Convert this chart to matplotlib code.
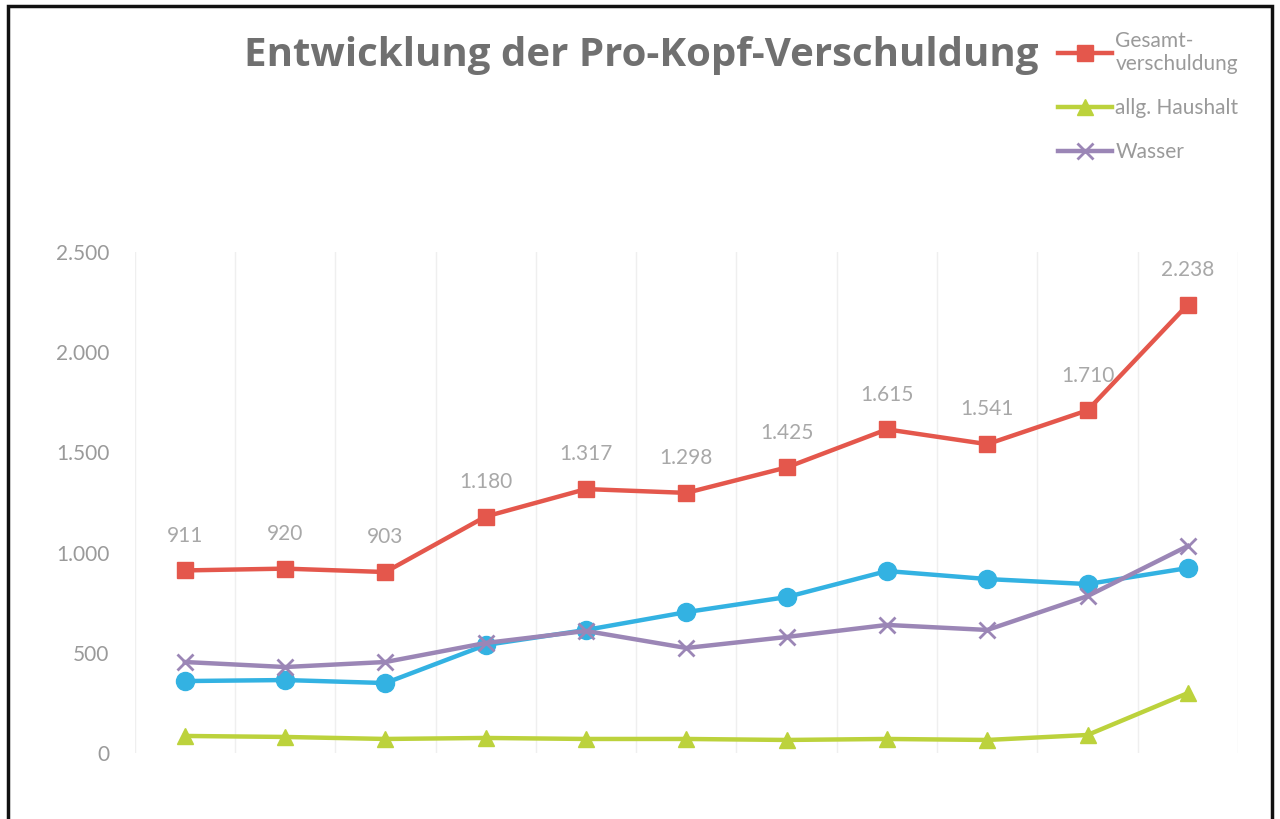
import matplotlib
matplotlib.use("Agg")
import matplotlib.pyplot as plt
from matplotlib.patches import Rectangle
from matplotlib.ticker import FuncFormatter, MultipleLocator

# Werte je Jahr (Jahresachse ist im Original abgeschnitten)
gesamt = [911, 920, 903, 1180, 1317, 1298, 1425, 1615, 1541, 1710, 2238]
abwasser = [359, 364, 349, 539, 614, 703, 778, 908, 868, 843, 923]
wasser = [454, 429, 454, 549, 609, 524, 579, 639, 614, 783, 1033]
haushalt = [85, 80, 70, 75, 70, 70, 65, 70, 65, 90, 299]
x = list(range(len(gesamt)))

RED = "#e4574c"
GREEN = "#bcd23c"
PURPLE = "#9b86b6"
BLUE = "#33b2e2"
GRAY = "#9a9a9a"

plt.rcParams["font.family"] = ["Lato", "DejaVu Sans"]

fig = plt.figure(figsize=(12.8, 8.19), dpi=100)
ax = fig.add_axes([0.1052, 0.0806, 0.862, 0.6117])

l_ges, = ax.plot(x, gesamt, color=RED, lw=3.2, marker="s", ms=12, zorder=5)
ax.plot(x, abwasser, color=BLUE, lw=3.2, marker="o", ms=13, zorder=4)
l_hh, = ax.plot(x, haushalt, color=GREEN, lw=3.2, marker="^", ms=11, zorder=4)
l_wa, = ax.plot(x, wasser, color=PURPLE, lw=3.2, marker="x", ms=11, mew=2, zorder=4)

# Datenbeschriftung der Gesamtverschuldung
for xi, v in zip(x, gesamt):
    ax.annotate(f"{v:,}".replace(",", "."), (xi, v), xytext=(0, 25),
                textcoords="offset points", ha="center", va="center",
                fontsize=15, color="#a8a8a8")

ax.set_xlim(-0.5, len(x) - 0.5)
ax.set_ylim(0, 2500)
ax.yaxis.set_major_locator(MultipleLocator(500))
ax.yaxis.set_major_formatter(FuncFormatter(lambda v, p: f"{int(v):,}".replace(",", ".")))
ax.set_xticks([i - 0.5 for i in range(len(x) + 1)])
ax.set_xticklabels([])
ax.tick_params(axis="x", length=0)
ax.tick_params(axis="y", length=0, pad=18, labelsize=15, labelcolor=GRAY)
ax.grid(axis="x", color="#efefef", lw=1)
for s in ax.spines.values():
    s.set_visible(False)

fig.text(0.501, 0.932, "Entwicklung der Pro-Kopf-Verschuldung", ha="center",
         va="center", fontsize=29, fontweight="bold", color="#707070",
         family=["Open Sans", "DejaVu Sans"])

leg = fig.legend([l_ges, l_hh, l_wa],
                 ["Gesamt-\nverschuldung", "allg. Haushalt", "Wasser"],
                 loc="upper left", bbox_to_anchor=(0.812, 0.985), frameon=False,
                 fontsize=15, labelcolor=GRAY, handlelength=2.6, handletextpad=0.15,
                 labelspacing=1.15)

fig.add_artist(Rectangle((0.006, -0.02), 0.988, 1.013, transform=fig.transFigure,
                         fill=False, ec="#111111", lw=2.5))

fig.savefig("out.png", dpi=100, facecolor="white")
